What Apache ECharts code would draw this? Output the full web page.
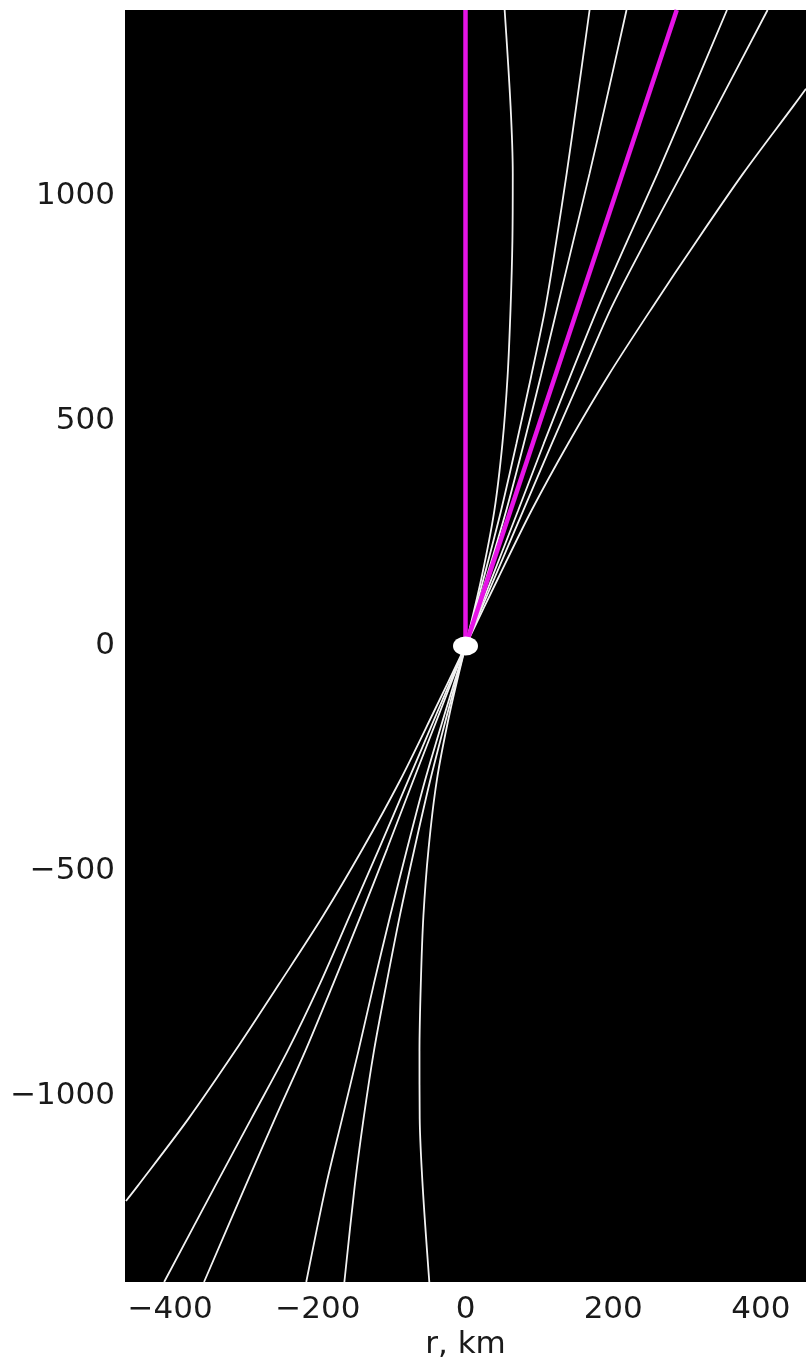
<!DOCTYPE html>
<html>
<head>
<meta charset="utf-8">
<script src="https://cdn.jsdelivr.net/npm/echarts@6/dist/echarts.min.js"></script>
<style>html,body{margin:0;padding:0;background:#fff;}#c{width:806px;height:1360px;}</style>
</head>
<body>
<div id="c"></div>
<script>
// axis ranges and tick labels
const xRange = [-461, 461];
const yRange = [-1413, 1413];
const xTicks = [-400, -200, 0, 200, 400];
const yTicks = [-1000, -500, 0, 500, 1000];

// upper field lines (y in km, x in km)
const upY = [0, 150, 300, 450, 600, 750, 900, 1050, 1200, 1413];
const up1 = [0, 21.5, 39, 50, 57, 61, 63.5, 64, 61, 53];
const up2 = [0, 24.5, 48, 69, 89, 108, 123, 137, 150, 168];
const up3 = [0, 28, 55, 79, 102, 124, 146, 168, 189, 218];
const up4 = [0, 35.5, 71, 106, 142, 179, 219, 260, 299, 354];
const up5 = [0, 39, 78, 117, 157, 197, 244, 293, 341, 409];
const up6Y = [0, 150, 300, 450, 600, 750, 900, 1050, 1200, 1238];
const up6 = [0, 44, 89, 139, 193, 252, 313, 376, 444, 461];

// lower field lines
const loY = [0, -150, -300, -450, -600, -750, -900, -1050, -1200, -1413];
const lo1 = [0, -21.5, -39, -50, -57, -60.5, -62.3, -62, -58, -49];
const lo2 = [0, -24.5, -48, -69, -89, -107, -124, -138, -150, -164];
const lo3 = [0, -28, -55, -79, -102, -124, -145, -167, -189, -215.6];
const lo4 = [0, -35.5, -71, -106, -142, -179, -217, -258, -298, -354];
const lo5 = [0, -39, -78, -117, -157, -197, -241, -290, -339, -408];
const lo6Y = [0, -150, -300, -450, -600, -750, -900, -1050, -1200, -1233];
const lo6 = [0, -44, -89, -139, -193, -252, -312, -375, -444, -459.7];

// magenta beams
const beamVertX = [0, 0];
const beamVertY = [0, 1413];
const beamTiltX = [0, 286];
const beamTiltY = [0, 1413];

// central body
const bodyX = [0];
const bodyY = [0];

function pairs(xs, ys) { return xs.map((x, i) => [x, ys[i]]); }

const whiteCurves = [
  pairs(up1, upY), pairs(up2, upY), pairs(up3, upY), pairs(up4, upY), pairs(up5, upY), pairs(up6, up6Y),
  pairs(lo1, loY), pairs(lo2, loY), pairs(lo3, loY), pairs(lo4, loY), pairs(lo5, loY), pairs(lo6, lo6Y)
];

const series = whiteCurves.map(d => ({
  type: 'line', data: d, smooth: 0.3, showSymbol: false, symbol: 'none',
  lineStyle: { color: '#f2f2f2', width: 1.8 }, z: 3, silent: true
}));
series.push({
  type: 'line', data: pairs(beamVertX, beamVertY), showSymbol: false, symbol: 'none',
  lineStyle: { color: '#e614e6', width: 4.5 }, z: 4, silent: true
});
series.push({
  type: 'line', data: pairs(beamTiltX, beamTiltY), showSymbol: false, symbol: 'none',
  lineStyle: { color: '#e614e6', width: 4.5 }, z: 4, silent: true
});
series.push({
  type: 'scatter', data: pairs(bodyX, bodyY), symbol: 'circle', symbolSize: [25, 19],
  itemStyle: { color: '#ffffff', opacity: 1 }, z: 6, silent: true
});

const chart = echarts.init(document.getElementById('c'), null, { renderer: 'canvas' });
chart.setOption({
  animation: false,
  backgroundColor: '#ffffff',
  grid: { left: 125, right: 0, top: 10, bottom: 78, containLabel: false, outerBoundsMode: 'none',
    show: true, backgroundColor: '#000000', borderColor: '#000000', borderWidth: 0 },
  xAxis: {
    type: 'value', min: xRange[0], max: xRange[1],
    name: 'r, km', nameLocation: 'middle', nameGap: 45,
    nameTextStyle: { fontFamily: 'DejaVu Sans', fontSize: 31, color: '#1a1a1a' },
    axisLine: { show: false }, axisTick: { show: false }, splitLine: { show: false },
    axisLabel: { customValues: xTicks, fontFamily: 'DejaVu Sans', fontSize: 31, color: '#1a1a1a', margin: 12,
      formatter: v => (v < 0 ? '\u2212' + Math.abs(v) : String(v)) }
  },
  yAxis: {
    type: 'value', min: yRange[0], max: yRange[1],
    axisLine: { show: false }, axisTick: { show: false }, splitLine: { show: false },
    axisLabel: { customValues: yTicks, fontFamily: 'DejaVu Sans', fontSize: 31, color: '#1a1a1a', margin: 10,
      formatter: v => (v < 0 ? '\u2212' + Math.abs(v) : String(v)) }
  },
  series: series
});
</script>
</body>
</html>
